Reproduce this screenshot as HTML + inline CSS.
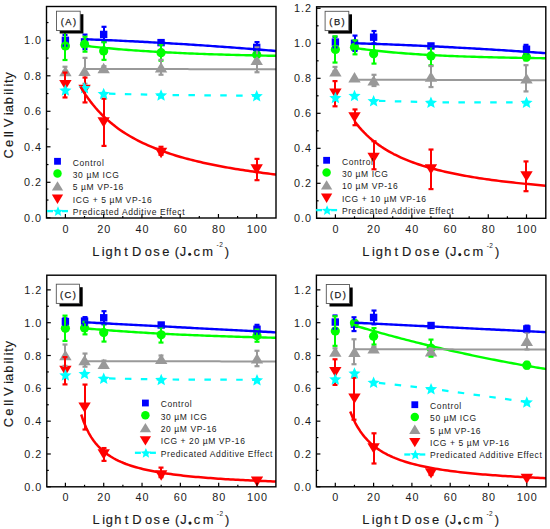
<!DOCTYPE html><html><head><meta charset="utf-8"><style>html,body{margin:0;padding:0;background:#fff;}svg{display:block;} text{stroke:#1a1a1a;stroke-width:0px;} text.t{stroke-width:0.15px;}</style></head><body>
<svg width="550" height="529" viewBox="0 0 550 529" style='font-family:"Liberation Sans",sans-serif'>
<rect width="550" height="529" fill="#fff"/>
<g>
<clipPath id="clipA"><rect x="46.50" y="6.50" width="229.50" height="211.50"/></clipPath>
<g clip-path="url(#clipA)">
<rect x="61.70" y="36.60" width="7.40" height="7.40" fill="#0000ff"/>
<rect x="80.83" y="38.20" width="7.40" height="7.40" fill="#0000ff"/>
<rect x="99.96" y="30.74" width="7.40" height="7.40" fill="#0000ff"/>
<rect x="157.35" y="38.91" width="7.40" height="7.40" fill="#0000ff"/>
<rect x="253.00" y="43.70" width="7.40" height="7.40" fill="#0000ff"/>
<circle cx="65.40" cy="45.98" r="4.60" fill="#00ff00"/>
<circle cx="84.53" cy="44.21" r="4.60" fill="#00ff00"/>
<circle cx="103.66" cy="50.95" r="4.60" fill="#00ff00"/>
<circle cx="161.05" cy="52.72" r="4.60" fill="#00ff00"/>
<circle cx="256.70" cy="54.86" r="4.60" fill="#00ff00"/>
<polygon points="65.40,66.04 71.60,76.34 59.20,76.34" fill="#999999"/>
<polygon points="84.53,65.68 90.73,75.98 78.33,75.98" fill="#999999"/>
<polygon points="103.66,62.84 109.86,73.14 97.46,73.14" fill="#999999"/>
<polygon points="161.05,62.13 167.25,72.43 154.85,72.43" fill="#999999"/>
<polygon points="256.70,54.68 262.90,64.98 250.50,64.98" fill="#999999"/>
<polygon points="59.20,79.88 71.60,79.88 65.40,90.18" fill="#ff0000"/>
<polygon points="78.33,84.85 90.73,84.85 84.53,95.15" fill="#ff0000"/>
<polygon points="97.46,117.16 109.86,117.16 103.66,127.46" fill="#ff0000"/>
<polygon points="154.85,147.86 167.25,147.86 161.05,158.16" fill="#ff0000"/>
<polygon points="250.50,164.37 262.90,164.37 256.70,174.67" fill="#ff0000"/>
<rect x="64.00" y="34.97" width="2" height="10.65" fill="#0000ff"/>
<rect x="62.50" y="33.87" width="5" height="2.2" fill="#0000ff"/>
<rect x="62.50" y="44.53" width="5" height="2.2" fill="#0000ff"/>
<rect x="84.00" y="34.62" width="2" height="14.56" fill="#0000ff"/>
<rect x="82.50" y="33.52" width="5" height="2.2" fill="#0000ff"/>
<rect x="82.50" y="48.08" width="5" height="2.2" fill="#0000ff"/>
<rect x="103.00" y="26.81" width="2" height="15.27" fill="#0000ff"/>
<rect x="101.50" y="25.71" width="5" height="2.2" fill="#0000ff"/>
<rect x="101.50" y="40.98" width="5" height="2.2" fill="#0000ff"/>
<rect x="160.00" y="40.83" width="2" height="3.55" fill="#0000ff"/>
<rect x="158.50" y="39.73" width="5" height="2.2" fill="#0000ff"/>
<rect x="158.50" y="43.28" width="5" height="2.2" fill="#0000ff"/>
<rect x="256.00" y="42.08" width="2" height="10.65" fill="#0000ff"/>
<rect x="254.50" y="40.98" width="5" height="2.2" fill="#0000ff"/>
<rect x="254.50" y="51.63" width="5" height="2.2" fill="#0000ff"/>
<rect x="64.00" y="31.96" width="2" height="28.04" fill="#00ff00"/>
<rect x="62.50" y="30.86" width="5" height="2.2" fill="#00ff00"/>
<rect x="62.50" y="58.90" width="5" height="2.2" fill="#00ff00"/>
<rect x="84.00" y="36.75" width="2" height="14.91" fill="#00ff00"/>
<rect x="82.50" y="35.65" width="5" height="2.2" fill="#00ff00"/>
<rect x="82.50" y="50.56" width="5" height="2.2" fill="#00ff00"/>
<rect x="103.00" y="42.08" width="2" height="17.75" fill="#00ff00"/>
<rect x="101.50" y="40.98" width="5" height="2.2" fill="#00ff00"/>
<rect x="101.50" y="58.73" width="5" height="2.2" fill="#00ff00"/>
<rect x="160.00" y="44.74" width="2" height="15.98" fill="#00ff00"/>
<rect x="158.50" y="43.64" width="5" height="2.2" fill="#00ff00"/>
<rect x="158.50" y="59.61" width="5" height="2.2" fill="#00ff00"/>
<rect x="256.00" y="53.08" width="2" height="3.55" fill="#00ff00"/>
<rect x="254.50" y="51.98" width="5" height="2.2" fill="#00ff00"/>
<rect x="254.50" y="55.53" width="5" height="2.2" fill="#00ff00"/>
<rect x="64.00" y="66.75" width="2" height="4.44" fill="#999999"/>
<rect x="62.50" y="65.65" width="5" height="2.2" fill="#999999"/>
<rect x="62.50" y="70.09" width="5" height="2.2" fill="#999999"/>
<rect x="84.00" y="57.87" width="2" height="25.91" fill="#999999"/>
<rect x="82.50" y="56.77" width="5" height="2.2" fill="#999999"/>
<rect x="82.50" y="82.69" width="5" height="2.2" fill="#999999"/>
<rect x="103.00" y="66.22" width="2" height="3.55" fill="#999999"/>
<rect x="101.50" y="65.12" width="5" height="2.2" fill="#999999"/>
<rect x="101.50" y="68.67" width="5" height="2.2" fill="#999999"/>
<rect x="160.00" y="59.83" width="2" height="14.91" fill="#999999"/>
<rect x="158.50" y="58.73" width="5" height="2.2" fill="#999999"/>
<rect x="158.50" y="73.64" width="5" height="2.2" fill="#999999"/>
<rect x="256.00" y="47.40" width="2" height="24.85" fill="#999999"/>
<rect x="254.50" y="46.30" width="5" height="2.2" fill="#999999"/>
<rect x="254.50" y="71.15" width="5" height="2.2" fill="#999999"/>
<rect x="64.00" y="72.60" width="2" height="24.85" fill="#ff0000"/>
<rect x="62.50" y="71.50" width="5" height="2.2" fill="#ff0000"/>
<rect x="62.50" y="96.36" width="5" height="2.2" fill="#ff0000"/>
<rect x="84.00" y="77.58" width="2" height="24.85" fill="#ff0000"/>
<rect x="82.50" y="76.48" width="5" height="2.2" fill="#ff0000"/>
<rect x="82.50" y="101.33" width="5" height="2.2" fill="#ff0000"/>
<rect x="103.00" y="98.70" width="2" height="47.22" fill="#ff0000"/>
<rect x="101.50" y="97.60" width="5" height="2.2" fill="#ff0000"/>
<rect x="101.50" y="144.81" width="5" height="2.2" fill="#ff0000"/>
<rect x="160.00" y="146.80" width="2" height="7.99" fill="#ff0000"/>
<rect x="158.50" y="145.70" width="5" height="2.2" fill="#ff0000"/>
<rect x="158.50" y="153.69" width="5" height="2.2" fill="#ff0000"/>
<rect x="256.00" y="158.87" width="2" height="21.30" fill="#ff0000"/>
<rect x="254.50" y="157.77" width="5" height="2.2" fill="#ff0000"/>
<rect x="254.50" y="179.07" width="5" height="2.2" fill="#ff0000"/>
<polygon points="65.40,84.21 67.09,88.28 71.49,88.63 68.14,91.50 69.16,95.79 65.40,93.49 61.64,95.79 62.66,91.50 59.31,88.63 63.71,88.28" fill="#00ffff"/>
<polygon points="84.53,81.90 86.22,85.97 90.62,86.33 87.27,89.19 88.29,93.48 84.53,91.18 80.77,93.48 81.79,89.19 78.44,86.33 82.84,85.97" fill="#00ffff"/>
<polygon points="103.66,87.76 105.35,91.83 109.75,92.18 106.40,95.05 107.42,99.34 103.66,97.04 99.90,99.34 100.92,95.05 97.57,92.18 101.97,91.83" fill="#00ffff"/>
<polygon points="161.05,89.18 162.74,93.25 167.14,93.60 163.79,96.47 164.81,100.76 161.05,98.46 157.29,100.76 158.31,96.47 154.96,93.60 159.36,93.25" fill="#00ffff"/>
<polygon points="256.70,89.89 258.39,93.96 262.79,94.31 259.44,97.18 260.46,101.47 256.70,99.17 252.94,101.47 253.96,97.18 250.61,94.31 255.01,93.96" fill="#00ffff"/>
<polyline points="103.66,93.55 161.05,94.97 256.70,95.68" fill="none" stroke="#00ffff" stroke-width="2.20" stroke-linejoin="round" stroke-dasharray="6.5,9.4" stroke-dashoffset="10.60"/>
<polyline points="86.80,39.30 89.22,39.39 91.64,39.49 94.06,39.58 96.48,39.68 98.90,39.78 101.32,39.88 103.74,39.98 106.16,40.09 108.58,40.19 111.00,40.30 113.42,40.40 115.84,40.51 118.26,40.62 120.68,40.74 123.10,40.85 125.52,40.97 127.94,41.08 130.36,41.20 132.78,41.32 135.21,41.44 137.63,41.56 140.05,41.69 142.47,41.81 144.89,41.94 147.31,42.07 149.73,42.20 152.15,42.33 154.57,42.46 156.99,42.60 159.41,42.73 161.83,42.87 164.25,43.01 166.67,43.15 169.09,43.29 171.51,43.43 173.93,43.58 176.35,43.72 178.77,43.87 181.19,44.02 183.61,44.17 186.03,44.32 188.45,44.47 190.87,44.63 193.29,44.78 195.71,44.94 198.13,45.10 200.55,45.26 202.97,45.42 205.39,45.59 207.81,45.75 210.23,45.92 212.65,46.09 215.07,46.25 217.49,46.43 219.91,46.60 222.33,46.77 224.75,46.95 227.17,47.12 229.59,47.30 232.02,47.48 234.44,47.66 236.86,47.84 239.28,48.03 241.70,48.21 244.12,48.40 246.54,48.59 248.96,48.78 251.38,48.97 253.80,49.16 256.22,49.36 258.64,49.55 261.06,49.75 263.48,49.95 265.90,50.15 268.32,50.35 270.74,50.55 273.16,50.76 275.58,50.96 278.00,51.17" fill="none" stroke="#0000ff" stroke-width="2.40" stroke-linejoin="round"/>
<polyline points="84.50,45.74 86.95,46.03 89.40,46.31 91.85,46.58 94.30,46.85 96.75,47.11 99.20,47.36 101.65,47.61 104.09,47.85 106.54,48.08 108.99,48.31 111.44,48.54 113.89,48.76 116.34,48.97 118.79,49.18 121.24,49.38 123.69,49.58 126.14,49.77 128.59,49.96 131.04,50.15 133.49,50.33 135.94,50.50 138.39,50.67 140.84,50.84 143.28,51.00 145.73,51.16 148.18,51.32 150.63,51.47 153.08,51.62 155.53,51.76 157.98,51.90 160.43,52.04 162.88,52.17 165.33,52.30 167.78,52.43 170.23,52.55 172.68,52.67 175.13,52.79 177.58,52.91 180.03,53.02 182.47,53.13 184.92,53.24 187.37,53.34 189.82,53.44 192.27,53.54 194.72,53.64 197.17,53.74 199.62,53.83 202.07,53.92 204.52,54.01 206.97,54.09 209.42,54.18 211.87,54.26 214.32,54.34 216.77,54.41 219.22,54.49 221.66,54.56 224.11,54.64 226.56,54.71 229.01,54.78 231.46,54.84 233.91,54.91 236.36,54.97 238.81,55.04 241.26,55.10 243.71,55.16 246.16,55.21 248.61,55.27 251.06,55.32 253.51,55.38 255.96,55.43 258.41,55.48 260.85,55.53 263.30,55.58 265.75,55.63 268.20,55.68 270.65,55.72 273.10,55.76 275.55,55.81 278.00,55.85" fill="none" stroke="#00ff00" stroke-width="2.40" stroke-linejoin="round"/>
<polyline points="84.50,68.95 86.95,68.96 89.40,68.96 91.85,68.96 94.30,68.97 96.75,68.97 99.20,68.98 101.65,68.98 104.09,68.98 106.54,68.99 108.99,68.99 111.44,69.00 113.89,69.00 116.34,69.01 118.79,69.01 121.24,69.01 123.69,69.02 126.14,69.02 128.59,69.03 131.04,69.03 133.49,69.03 135.94,69.04 138.39,69.04 140.84,69.05 143.28,69.05 145.73,69.05 148.18,69.06 150.63,69.06 153.08,69.07 155.53,69.07 157.98,69.07 160.43,69.08 162.88,69.08 165.33,69.09 167.78,69.09 170.23,69.09 172.68,69.10 175.13,69.10 177.58,69.11 180.03,69.11 182.47,69.11 184.92,69.12 187.37,69.12 189.82,69.13 192.27,69.13 194.72,69.13 197.17,69.14 199.62,69.14 202.07,69.15 204.52,69.15 206.97,69.15 209.42,69.16 211.87,69.16 214.32,69.17 216.77,69.17 219.22,69.17 221.66,69.18 224.11,69.18 226.56,69.19 229.01,69.19 231.46,69.20 233.91,69.20 236.36,69.20 238.81,69.21 241.26,69.21 243.71,69.22 246.16,69.22 248.61,69.22 251.06,69.23 253.51,69.23 255.96,69.24 258.41,69.24 260.85,69.24 263.30,69.25 265.75,69.25 268.20,69.26 270.65,69.26 273.10,69.26 275.55,69.27 278.00,69.27" fill="none" stroke="#999999" stroke-width="2.00" stroke-linejoin="round"/>
<polyline points="80.50,86.62 83.00,90.76 85.50,94.62 88.00,98.22 90.50,101.61 93.00,104.78 95.50,107.77 98.00,110.59 100.50,113.25 103.00,115.76 105.50,118.14 108.00,120.40 110.50,122.55 113.00,124.59 115.50,126.53 118.00,128.38 120.50,130.15 123.00,131.84 125.50,133.45 128.00,135.00 130.50,136.48 133.00,137.90 135.50,139.26 138.00,140.57 140.50,141.83 143.00,143.04 145.50,144.21 148.00,145.33 150.50,146.42 153.00,147.46 155.50,148.47 158.00,149.45 160.50,150.39 163.00,151.30 165.50,152.18 168.00,153.04 170.50,153.86 173.00,154.67 175.50,155.44 178.00,156.20 180.50,156.93 183.00,157.64 185.50,158.33 188.00,159.00 190.50,159.65 193.00,160.29 195.50,160.90 198.00,161.50 200.50,162.09 203.00,162.66 205.50,163.21 208.00,163.75 210.50,164.28 213.00,164.79 215.50,165.30 218.00,165.79 220.50,166.26 223.00,166.73 225.50,167.19 228.00,167.63 230.50,168.07 233.00,168.49 235.50,168.91 238.00,169.31 240.50,169.71 243.00,170.10 245.50,170.48 248.00,170.85 250.50,171.22 253.00,171.58 255.50,171.93 258.00,172.27 260.50,172.60 263.00,172.93 265.50,173.26 268.00,173.57 270.50,173.88 273.00,174.19 275.50,174.49 278.00,174.78" fill="none" stroke="#ff0000" stroke-width="2.50" stroke-linejoin="round"/>
</g>
<rect x="46.50" y="6.50" width="229.50" height="211.50" fill="none" stroke="#000" stroke-width="1.4"/>
<line x1="65.40" y1="218.00" x2="65.40" y2="214.00" stroke="#000" stroke-width="1.2"/>
<text x="65.90" y="232.60" font-size="10.80" text-anchor="middle" letter-spacing="1.00" fill="#1a1a1a" >0</text>
<line x1="84.53" y1="218.00" x2="84.53" y2="216.00" stroke="#000" stroke-width="1.2"/>
<line x1="103.66" y1="218.00" x2="103.66" y2="214.00" stroke="#000" stroke-width="1.2"/>
<text x="104.16" y="232.60" font-size="10.80" text-anchor="middle" letter-spacing="1.00" fill="#1a1a1a" >20</text>
<line x1="122.79" y1="218.00" x2="122.79" y2="216.00" stroke="#000" stroke-width="1.2"/>
<line x1="141.92" y1="218.00" x2="141.92" y2="214.00" stroke="#000" stroke-width="1.2"/>
<text x="142.42" y="232.60" font-size="10.80" text-anchor="middle" letter-spacing="1.00" fill="#1a1a1a" >40</text>
<line x1="161.05" y1="218.00" x2="161.05" y2="216.00" stroke="#000" stroke-width="1.2"/>
<line x1="180.18" y1="218.00" x2="180.18" y2="214.00" stroke="#000" stroke-width="1.2"/>
<text x="180.68" y="232.60" font-size="10.80" text-anchor="middle" letter-spacing="1.00" fill="#1a1a1a" >60</text>
<line x1="199.31" y1="218.00" x2="199.31" y2="216.00" stroke="#000" stroke-width="1.2"/>
<line x1="218.44" y1="218.00" x2="218.44" y2="214.00" stroke="#000" stroke-width="1.2"/>
<text x="218.94" y="232.60" font-size="10.80" text-anchor="middle" letter-spacing="1.00" fill="#1a1a1a" >80</text>
<line x1="237.57" y1="218.00" x2="237.57" y2="216.00" stroke="#000" stroke-width="1.2"/>
<line x1="256.70" y1="218.00" x2="256.70" y2="214.00" stroke="#000" stroke-width="1.2"/>
<text x="257.20" y="232.60" font-size="10.80" text-anchor="middle" letter-spacing="1.00" fill="#1a1a1a" >100</text>
<line x1="46.50" y1="217.80" x2="50.50" y2="217.80" stroke="#000" stroke-width="1.2"/>
<text x="42.00" y="221.80" font-size="10.80" text-anchor="end" letter-spacing="1.00" fill="#1a1a1a" >0.0</text>
<line x1="46.50" y1="200.05" x2="48.50" y2="200.05" stroke="#000" stroke-width="1.2"/>
<line x1="46.50" y1="182.30" x2="50.50" y2="182.30" stroke="#000" stroke-width="1.2"/>
<text x="42.00" y="186.30" font-size="10.80" text-anchor="end" letter-spacing="1.00" fill="#1a1a1a" >0.2</text>
<line x1="46.50" y1="164.55" x2="48.50" y2="164.55" stroke="#000" stroke-width="1.2"/>
<line x1="46.50" y1="146.80" x2="50.50" y2="146.80" stroke="#000" stroke-width="1.2"/>
<text x="42.00" y="150.80" font-size="10.80" text-anchor="end" letter-spacing="1.00" fill="#1a1a1a" >0.4</text>
<line x1="46.50" y1="129.05" x2="48.50" y2="129.05" stroke="#000" stroke-width="1.2"/>
<line x1="46.50" y1="111.30" x2="50.50" y2="111.30" stroke="#000" stroke-width="1.2"/>
<text x="42.00" y="115.30" font-size="10.80" text-anchor="end" letter-spacing="1.00" fill="#1a1a1a" >0.6</text>
<line x1="46.50" y1="93.55" x2="48.50" y2="93.55" stroke="#000" stroke-width="1.2"/>
<line x1="46.50" y1="75.80" x2="50.50" y2="75.80" stroke="#000" stroke-width="1.2"/>
<text x="42.00" y="79.80" font-size="10.80" text-anchor="end" letter-spacing="1.00" fill="#1a1a1a" >0.8</text>
<line x1="46.50" y1="58.05" x2="48.50" y2="58.05" stroke="#000" stroke-width="1.2"/>
<line x1="46.50" y1="40.30" x2="50.50" y2="40.30" stroke="#000" stroke-width="1.2"/>
<text x="42.00" y="44.30" font-size="10.80" text-anchor="end" letter-spacing="1.00" fill="#1a1a1a" >1.0</text>
<line x1="46.50" y1="22.55" x2="48.50" y2="22.55" stroke="#000" stroke-width="1.2"/>
<text class="t" x="92.25 101.87 105.56 114.03 124.36 131.97 144.76 153.13 162.13 174.79 179.85 193.42 202.37 224.81" y="255.60" font-size="12.90" fill="#1a1a1a">LightDose(Jcm)</text>
<circle cx="189.70" cy="254.30" r="1.55" fill="#1a1a1a"/>
<text x="216.57" y="247.40" font-size="6.5" fill="#1a1a1a">-</text>
<text x="219.19" y="247.40" font-size="6.5" fill="#1a1a1a">2</text>
<text class="t" transform="translate(13.0,0) rotate(-90)" x="-158.44 -147.12 -136.99 -133.89 -127.30 -114.98 -112.31 -104.13 -94.78 -91.44 -86.53 -82.94 -78.83" y="0" font-size="12.90" fill="#1a1a1a">CellViability</text>
<rect x="59.70" y="14.20" width="23.70" height="19.30" fill="#000"/>
<rect x="56.50" y="11.20" width="23.70" height="19.30" fill="#fff" stroke="#555" stroke-width="0.9"/>
<text x="69.15" y="25.05" font-size="9.30" text-anchor="middle" letter-spacing="1.50" fill="#1a1a1a" style="stroke-width:0.25px">(A)</text>
<rect x="54.10" y="157.90" width="6.81" height="6.81" fill="#0000ff"/>
<text x="72.80" y="165.60" font-size="8.50" text-anchor="start" letter-spacing="0.60" fill="#1a1a1a" >Control</text>
<circle cx="57.50" cy="173.60" r="4.23" fill="#00ff00"/>
<text x="72.80" y="177.90" font-size="8.50" text-anchor="start" letter-spacing="0.60" fill="#1a1a1a" >30 &#181;M ICG</text>
<polygon points="57.50,181.21 63.14,190.59 51.86,190.59" fill="#999999"/>
<text x="72.80" y="190.20" font-size="8.50" text-anchor="start" letter-spacing="0.60" fill="#1a1a1a" >5 &#181;M VP-16</text>
<polygon points="51.86,194.51 63.14,194.51 57.50,203.89" fill="#ff0000"/>
<text x="72.80" y="202.50" font-size="8.50" text-anchor="start" letter-spacing="0.60" fill="#1a1a1a" >ICG + 5 &#181;M VP-16</text>
<line x1="47.00" y1="211.10" x2="53.00" y2="211.10" stroke="#00ffff" stroke-width="2.3"/>
<line x1="62.00" y1="211.10" x2="68.00" y2="211.10" stroke="#00ffff" stroke-width="2.3"/>
<polygon points="58.00,206.18 59.44,209.64 63.17,209.94 60.33,212.38 61.20,216.02 58.00,214.07 54.80,216.02 55.67,212.38 52.83,209.94 56.56,209.64" fill="#00ffff"/>
<text x="72.80" y="214.80" font-size="8.50" text-anchor="start" letter-spacing="0.60" fill="#1a1a1a" >Predicated Additive Effect</text>
</g>
<g>
<clipPath id="clipB"><rect x="316.60" y="6.80" width="229.20" height="211.50"/></clipPath>
<g clip-path="url(#clipB)">
<rect x="331.70" y="38.38" width="7.40" height="7.40" fill="#0000ff"/>
<rect x="350.81" y="39.60" width="7.40" height="7.40" fill="#0000ff"/>
<rect x="369.92" y="33.48" width="7.40" height="7.40" fill="#0000ff"/>
<rect x="427.25" y="42.23" width="7.40" height="7.40" fill="#0000ff"/>
<rect x="522.80" y="45.55" width="7.40" height="7.40" fill="#0000ff"/>
<circle cx="335.40" cy="49.43" r="4.60" fill="#00ff00"/>
<circle cx="354.51" cy="47.33" r="4.60" fill="#00ff00"/>
<circle cx="373.62" cy="53.80" r="4.60" fill="#00ff00"/>
<circle cx="430.95" cy="55.90" r="4.60" fill="#00ff00"/>
<circle cx="526.50" cy="56.95" r="4.60" fill="#00ff00"/>
<polygon points="335.40,66.15 341.60,76.45 329.20,76.45" fill="#999999"/>
<polygon points="354.51,72.10 360.71,82.40 348.31,82.40" fill="#999999"/>
<polygon points="373.62,75.25 379.82,85.55 367.42,85.55" fill="#999999"/>
<polygon points="430.95,71.40 437.15,81.70 424.75,81.70" fill="#999999"/>
<polygon points="526.50,73.15 532.70,83.45 520.30,83.45" fill="#999999"/>
<polygon points="329.20,88.55 341.60,88.55 335.40,98.85" fill="#ff0000"/>
<polygon points="348.31,112.18 360.71,112.18 354.51,122.48" fill="#ff0000"/>
<polygon points="367.42,152.78 379.82,152.78 373.62,163.08" fill="#ff0000"/>
<polygon points="424.75,164.15 437.15,164.15 430.95,174.45" fill="#ff0000"/>
<polygon points="520.30,171.15 532.70,171.15 526.50,181.45" fill="#ff0000"/>
<rect x="334.00" y="36.83" width="2" height="10.50" fill="#0000ff"/>
<rect x="332.50" y="35.73" width="5" height="2.2" fill="#0000ff"/>
<rect x="332.50" y="46.23" width="5" height="2.2" fill="#0000ff"/>
<rect x="354.00" y="35.60" width="2" height="15.40" fill="#0000ff"/>
<rect x="352.50" y="34.50" width="5" height="2.2" fill="#0000ff"/>
<rect x="352.50" y="49.90" width="5" height="2.2" fill="#0000ff"/>
<rect x="373.00" y="31.05" width="2" height="12.25" fill="#0000ff"/>
<rect x="371.50" y="29.95" width="5" height="2.2" fill="#0000ff"/>
<rect x="371.50" y="42.20" width="5" height="2.2" fill="#0000ff"/>
<rect x="430.00" y="44.18" width="2" height="3.50" fill="#0000ff"/>
<rect x="428.50" y="43.08" width="5" height="2.2" fill="#0000ff"/>
<rect x="428.50" y="46.58" width="5" height="2.2" fill="#0000ff"/>
<rect x="525.00" y="44.88" width="2" height="8.75" fill="#0000ff"/>
<rect x="523.50" y="43.77" width="5" height="2.2" fill="#0000ff"/>
<rect x="523.50" y="52.53" width="5" height="2.2" fill="#0000ff"/>
<rect x="334.00" y="36.30" width="2" height="26.25" fill="#00ff00"/>
<rect x="332.50" y="35.20" width="5" height="2.2" fill="#00ff00"/>
<rect x="332.50" y="61.45" width="5" height="2.2" fill="#00ff00"/>
<rect x="354.00" y="40.33" width="2" height="14.00" fill="#00ff00"/>
<rect x="352.50" y="39.23" width="5" height="2.2" fill="#00ff00"/>
<rect x="352.50" y="53.23" width="5" height="2.2" fill="#00ff00"/>
<rect x="373.00" y="44.00" width="2" height="19.60" fill="#00ff00"/>
<rect x="371.50" y="42.90" width="5" height="2.2" fill="#00ff00"/>
<rect x="371.50" y="62.50" width="5" height="2.2" fill="#00ff00"/>
<rect x="430.00" y="46.45" width="2" height="18.90" fill="#00ff00"/>
<rect x="428.50" y="45.35" width="5" height="2.2" fill="#00ff00"/>
<rect x="428.50" y="64.25" width="5" height="2.2" fill="#00ff00"/>
<rect x="525.00" y="53.45" width="2" height="7.00" fill="#00ff00"/>
<rect x="523.50" y="52.35" width="5" height="2.2" fill="#00ff00"/>
<rect x="523.50" y="59.35" width="5" height="2.2" fill="#00ff00"/>
<rect x="334.00" y="66.93" width="2" height="4.38" fill="#999999"/>
<rect x="332.50" y="65.83" width="5" height="2.2" fill="#999999"/>
<rect x="332.50" y="70.20" width="5" height="2.2" fill="#999999"/>
<rect x="373.00" y="74.80" width="2" height="11.20" fill="#999999"/>
<rect x="371.50" y="73.70" width="5" height="2.2" fill="#999999"/>
<rect x="371.50" y="84.90" width="5" height="2.2" fill="#999999"/>
<rect x="430.00" y="66.05" width="2" height="21.00" fill="#999999"/>
<rect x="428.50" y="64.95" width="5" height="2.2" fill="#999999"/>
<rect x="428.50" y="85.95" width="5" height="2.2" fill="#999999"/>
<rect x="525.00" y="65.18" width="2" height="26.25" fill="#999999"/>
<rect x="523.50" y="64.08" width="5" height="2.2" fill="#999999"/>
<rect x="523.50" y="90.33" width="5" height="2.2" fill="#999999"/>
<rect x="334.00" y="81.10" width="2" height="25.20" fill="#ff0000"/>
<rect x="332.50" y="80.00" width="5" height="2.2" fill="#ff0000"/>
<rect x="332.50" y="105.20" width="5" height="2.2" fill="#ff0000"/>
<rect x="354.00" y="109.45" width="2" height="15.75" fill="#ff0000"/>
<rect x="352.50" y="108.35" width="5" height="2.2" fill="#ff0000"/>
<rect x="352.50" y="124.10" width="5" height="2.2" fill="#ff0000"/>
<rect x="373.00" y="141.30" width="2" height="28.00" fill="#ff0000"/>
<rect x="371.50" y="140.20" width="5" height="2.2" fill="#ff0000"/>
<rect x="371.50" y="168.20" width="5" height="2.2" fill="#ff0000"/>
<rect x="430.00" y="149.53" width="2" height="39.55" fill="#ff0000"/>
<rect x="428.50" y="148.43" width="5" height="2.2" fill="#ff0000"/>
<rect x="428.50" y="187.98" width="5" height="2.2" fill="#ff0000"/>
<rect x="525.00" y="161.43" width="2" height="29.75" fill="#ff0000"/>
<rect x="523.50" y="160.33" width="5" height="2.2" fill="#ff0000"/>
<rect x="523.50" y="190.08" width="5" height="2.2" fill="#ff0000"/>
<polygon points="335.40,91.76 337.09,95.83 341.49,96.18 338.14,99.05 339.16,103.34 335.40,101.04 331.64,103.34 332.66,99.05 329.31,96.18 333.71,95.83" fill="#00ffff"/>
<polygon points="354.51,89.66 356.20,93.73 360.60,94.08 357.25,96.95 358.27,101.24 354.51,98.94 350.75,101.24 351.77,96.95 348.42,94.08 352.82,93.73" fill="#00ffff"/>
<polygon points="373.62,94.91 375.31,98.98 379.71,99.33 376.36,102.20 377.38,106.49 373.62,104.19 369.86,106.49 370.88,102.20 367.53,99.33 371.93,98.98" fill="#00ffff"/>
<polygon points="430.95,96.49 432.64,100.56 437.04,100.91 433.69,103.78 434.71,108.06 430.95,105.77 427.19,108.06 428.21,103.78 424.86,100.91 429.26,100.56" fill="#00ffff"/>
<polygon points="526.50,96.49 528.19,100.56 532.59,100.91 529.24,103.78 530.26,108.06 526.50,105.77 522.74,108.06 523.76,103.78 520.41,100.91 524.81,100.56" fill="#00ffff"/>
<polyline points="373.62,100.70 430.95,102.28 526.50,102.28" fill="none" stroke="#00ffff" stroke-width="2.20" stroke-linejoin="round" stroke-dasharray="6.5,9.4" stroke-dashoffset="10.60"/>
<polyline points="354.50,43.20 356.95,43.28 359.39,43.36 361.84,43.44 364.29,43.52 366.73,43.60 369.18,43.69 371.63,43.77 374.07,43.86 376.52,43.95 378.97,44.04 381.42,44.13 383.86,44.22 386.31,44.31 388.76,44.41 391.20,44.50 393.65,44.60 396.10,44.70 398.54,44.80 400.99,44.90 403.44,45.00 405.88,45.11 408.33,45.21 410.78,45.32 413.22,45.43 415.67,45.54 418.12,45.65 420.56,45.76 423.01,45.87 425.46,45.98 427.91,46.10 430.35,46.22 432.80,46.33 435.25,46.45 437.69,46.57 440.14,46.70 442.59,46.82 445.03,46.94 447.48,47.07 449.93,47.20 452.37,47.32 454.82,47.45 457.27,47.58 459.71,47.72 462.16,47.85 464.61,47.98 467.05,48.12 469.50,48.26 471.95,48.40 474.39,48.54 476.84,48.68 479.29,48.82 481.74,48.96 484.18,49.11 486.63,49.26 489.08,49.40 491.52,49.55 493.97,49.70 496.42,49.85 498.86,50.01 501.31,50.16 503.76,50.32 506.20,50.47 508.65,50.63 511.10,50.79 513.54,50.95 515.99,51.11 518.44,51.27 520.88,51.44 523.33,51.60 525.78,51.77 528.23,51.94 530.67,52.11 533.12,52.28 535.57,52.45 538.01,52.63 540.46,52.80 542.91,52.98 545.35,53.15 547.80,53.33" fill="none" stroke="#0000ff" stroke-width="2.40" stroke-linejoin="round"/>
<polyline points="354.50,47.91 356.95,48.27 359.39,48.61 361.84,48.94 364.29,49.27 366.73,49.58 369.18,49.88 371.63,50.18 374.07,50.46 376.52,50.73 378.97,51.00 381.42,51.26 383.86,51.51 386.31,51.75 388.76,51.98 391.20,52.21 393.65,52.43 396.10,52.64 398.54,52.85 400.99,53.05 403.44,53.24 405.88,53.43 408.33,53.61 410.78,53.78 413.22,53.95 415.67,54.12 418.12,54.28 420.56,54.43 423.01,54.58 425.46,54.72 427.91,54.86 430.35,55.00 432.80,55.13 435.25,55.26 437.69,55.38 440.14,55.50 442.59,55.61 445.03,55.73 447.48,55.83 449.93,55.94 452.37,56.04 454.82,56.14 457.27,56.23 459.71,56.33 462.16,56.41 464.61,56.50 467.05,56.58 469.50,56.67 471.95,56.74 474.39,56.82 476.84,56.89 479.29,56.96 481.74,57.03 484.18,57.10 486.63,57.17 489.08,57.23 491.52,57.29 493.97,57.35 496.42,57.40 498.86,57.46 501.31,57.51 503.76,57.56 506.20,57.61 508.65,57.66 511.10,57.71 513.54,57.75 515.99,57.80 518.44,57.84 520.88,57.88 523.33,57.92 525.78,57.96 528.23,58.00 530.67,58.03 533.12,58.07 535.57,58.10 538.01,58.14 540.46,58.17 542.91,58.20 545.35,58.23 547.80,58.26" fill="none" stroke="#00ff00" stroke-width="2.40" stroke-linejoin="round"/>
<polyline points="358.40,79.65 360.80,79.65 363.19,79.66 365.59,79.67 367.99,79.68 370.39,79.68 372.78,79.69 375.18,79.70 377.58,79.70 379.98,79.71 382.37,79.72 384.77,79.72 387.17,79.73 389.57,79.74 391.96,79.75 394.36,79.75 396.76,79.76 399.16,79.77 401.55,79.77 403.95,79.78 406.35,79.79 408.75,79.79 411.14,79.80 413.54,79.81 415.94,79.82 418.34,79.82 420.73,79.83 423.13,79.84 425.53,79.84 427.93,79.85 430.32,79.86 432.72,79.86 435.12,79.87 437.52,79.88 439.91,79.88 442.31,79.89 444.71,79.90 447.11,79.91 449.50,79.91 451.90,79.92 454.30,79.93 456.70,79.93 459.09,79.94 461.49,79.95 463.89,79.95 466.29,79.96 468.68,79.97 471.08,79.98 473.48,79.98 475.88,79.99 478.27,80.00 480.67,80.00 483.07,80.01 485.47,80.02 487.86,80.02 490.26,80.03 492.66,80.04 495.06,80.05 497.45,80.05 499.85,80.06 502.25,80.07 504.65,80.07 507.04,80.08 509.44,80.09 511.84,80.09 514.24,80.10 516.63,80.11 519.03,80.11 521.43,80.12 523.83,80.13 526.22,80.14 528.62,80.14 531.02,80.15 533.42,80.16 535.81,80.16 538.21,80.17 540.61,80.18 543.01,80.18 545.40,80.19 547.80,80.20" fill="none" stroke="#999999" stroke-width="2.00" stroke-linejoin="round"/>
<polyline points="354.50,121.17 356.95,124.37 359.39,127.34 361.84,130.11 364.29,132.68 366.73,135.09 369.18,137.35 371.63,139.48 374.07,141.47 376.52,143.35 378.97,145.13 381.42,146.81 383.86,148.40 386.31,149.91 388.76,151.34 391.20,152.71 393.65,154.01 396.10,155.24 398.54,156.42 400.99,157.55 403.44,158.63 405.88,159.66 408.33,160.65 410.78,161.60 413.22,162.52 415.67,163.39 418.12,164.23 420.56,165.04 423.01,165.82 425.46,166.57 427.91,167.30 430.35,168.00 432.80,168.67 435.25,169.32 437.69,169.95 440.14,170.56 442.59,171.15 445.03,171.72 447.48,172.27 449.93,172.81 452.37,173.33 454.82,173.83 457.27,174.32 459.71,174.80 462.16,175.26 464.61,175.71 467.05,176.14 469.50,176.57 471.95,176.98 474.39,177.38 476.84,177.77 479.29,178.15 481.74,178.52 484.18,178.88 486.63,179.24 489.08,179.58 491.52,179.92 493.97,180.24 496.42,180.56 498.86,180.87 501.31,181.18 503.76,181.48 506.20,181.77 508.65,182.05 511.10,182.33 513.54,182.60 515.99,182.87 518.44,183.13 520.88,183.38 523.33,183.63 525.78,183.87 528.23,184.11 530.67,184.35 533.12,184.58 535.57,184.80 538.01,185.02 540.46,185.24 542.91,185.45 545.35,185.66 547.80,185.86" fill="none" stroke="#ff0000" stroke-width="2.50" stroke-linejoin="round"/>
</g>
<rect x="316.60" y="6.80" width="229.20" height="211.50" fill="none" stroke="#000" stroke-width="1.4"/>
<line x1="335.40" y1="218.30" x2="335.40" y2="214.30" stroke="#000" stroke-width="1.2"/>
<text x="335.90" y="232.90" font-size="10.80" text-anchor="middle" letter-spacing="1.00" fill="#1a1a1a" >0</text>
<line x1="354.51" y1="218.30" x2="354.51" y2="216.30" stroke="#000" stroke-width="1.2"/>
<line x1="373.62" y1="218.30" x2="373.62" y2="214.30" stroke="#000" stroke-width="1.2"/>
<text x="374.12" y="232.90" font-size="10.80" text-anchor="middle" letter-spacing="1.00" fill="#1a1a1a" >20</text>
<line x1="392.73" y1="218.30" x2="392.73" y2="216.30" stroke="#000" stroke-width="1.2"/>
<line x1="411.84" y1="218.30" x2="411.84" y2="214.30" stroke="#000" stroke-width="1.2"/>
<text x="412.34" y="232.90" font-size="10.80" text-anchor="middle" letter-spacing="1.00" fill="#1a1a1a" >40</text>
<line x1="430.95" y1="218.30" x2="430.95" y2="216.30" stroke="#000" stroke-width="1.2"/>
<line x1="450.06" y1="218.30" x2="450.06" y2="214.30" stroke="#000" stroke-width="1.2"/>
<text x="450.56" y="232.90" font-size="10.80" text-anchor="middle" letter-spacing="1.00" fill="#1a1a1a" >60</text>
<line x1="469.17" y1="218.30" x2="469.17" y2="216.30" stroke="#000" stroke-width="1.2"/>
<line x1="488.28" y1="218.30" x2="488.28" y2="214.30" stroke="#000" stroke-width="1.2"/>
<text x="488.78" y="232.90" font-size="10.80" text-anchor="middle" letter-spacing="1.00" fill="#1a1a1a" >80</text>
<line x1="507.39" y1="218.30" x2="507.39" y2="216.30" stroke="#000" stroke-width="1.2"/>
<line x1="526.50" y1="218.30" x2="526.50" y2="214.30" stroke="#000" stroke-width="1.2"/>
<text x="527.00" y="232.90" font-size="10.80" text-anchor="middle" letter-spacing="1.00" fill="#1a1a1a" >100</text>
<line x1="316.60" y1="218.30" x2="320.60" y2="218.30" stroke="#000" stroke-width="1.2"/>
<text x="312.10" y="222.30" font-size="10.80" text-anchor="end" letter-spacing="1.00" fill="#1a1a1a" >0.0</text>
<line x1="316.60" y1="200.80" x2="318.60" y2="200.80" stroke="#000" stroke-width="1.2"/>
<line x1="316.60" y1="183.30" x2="320.60" y2="183.30" stroke="#000" stroke-width="1.2"/>
<text x="312.10" y="187.30" font-size="10.80" text-anchor="end" letter-spacing="1.00" fill="#1a1a1a" >0.2</text>
<line x1="316.60" y1="165.80" x2="318.60" y2="165.80" stroke="#000" stroke-width="1.2"/>
<line x1="316.60" y1="148.30" x2="320.60" y2="148.30" stroke="#000" stroke-width="1.2"/>
<text x="312.10" y="152.30" font-size="10.80" text-anchor="end" letter-spacing="1.00" fill="#1a1a1a" >0.4</text>
<line x1="316.60" y1="130.80" x2="318.60" y2="130.80" stroke="#000" stroke-width="1.2"/>
<line x1="316.60" y1="113.30" x2="320.60" y2="113.30" stroke="#000" stroke-width="1.2"/>
<text x="312.10" y="117.30" font-size="10.80" text-anchor="end" letter-spacing="1.00" fill="#1a1a1a" >0.6</text>
<line x1="316.60" y1="95.80" x2="318.60" y2="95.80" stroke="#000" stroke-width="1.2"/>
<line x1="316.60" y1="78.30" x2="320.60" y2="78.30" stroke="#000" stroke-width="1.2"/>
<text x="312.10" y="82.30" font-size="10.80" text-anchor="end" letter-spacing="1.00" fill="#1a1a1a" >0.8</text>
<line x1="316.60" y1="60.80" x2="318.60" y2="60.80" stroke="#000" stroke-width="1.2"/>
<line x1="316.60" y1="43.30" x2="320.60" y2="43.30" stroke="#000" stroke-width="1.2"/>
<text x="312.10" y="47.30" font-size="10.80" text-anchor="end" letter-spacing="1.00" fill="#1a1a1a" >1.0</text>
<line x1="316.60" y1="25.80" x2="318.60" y2="25.80" stroke="#000" stroke-width="1.2"/>
<line x1="316.60" y1="8.30" x2="320.60" y2="8.30" stroke="#000" stroke-width="1.2"/>
<text x="312.10" y="12.30" font-size="10.80" text-anchor="end" letter-spacing="1.00" fill="#1a1a1a" >1.2</text>
<text class="t" x="362.35 371.97 375.66 384.13 394.46 402.07 414.86 423.23 432.23 444.89 449.95 463.52 472.47 494.91" y="255.90" font-size="12.90" fill="#1a1a1a">LightDose(Jcm)</text>
<circle cx="459.80" cy="254.60" r="1.55" fill="#1a1a1a"/>
<text x="486.67" y="247.70" font-size="6.5" fill="#1a1a1a">-</text>
<text x="489.29" y="247.70" font-size="6.5" fill="#1a1a1a">2</text>
<rect x="328.30" y="14.30" width="23.70" height="19.30" fill="#000"/>
<rect x="325.10" y="11.30" width="23.70" height="19.30" fill="#fff" stroke="#555" stroke-width="0.9"/>
<text x="337.75" y="25.15" font-size="9.30" text-anchor="middle" letter-spacing="1.50" fill="#1a1a1a" style="stroke-width:0.25px">(B)</text>
<rect x="323.20" y="156.90" width="6.81" height="6.81" fill="#0000ff"/>
<text x="341.90" y="164.60" font-size="8.50" text-anchor="start" letter-spacing="0.60" fill="#1a1a1a" >Control</text>
<circle cx="326.60" cy="172.60" r="4.23" fill="#00ff00"/>
<text x="341.90" y="176.90" font-size="8.50" text-anchor="start" letter-spacing="0.60" fill="#1a1a1a" >30 &#181;M ICG</text>
<polygon points="326.60,180.21 332.24,189.59 320.96,189.59" fill="#999999"/>
<text x="341.90" y="189.20" font-size="8.50" text-anchor="start" letter-spacing="0.60" fill="#1a1a1a" >10 &#181;M VP-16</text>
<polygon points="320.96,193.51 332.24,193.51 326.60,202.89" fill="#ff0000"/>
<text x="341.90" y="201.50" font-size="8.50" text-anchor="start" letter-spacing="0.60" fill="#1a1a1a" >ICG + 10 &#181;M VP-16</text>
<line x1="316.10" y1="210.10" x2="322.10" y2="210.10" stroke="#00ffff" stroke-width="2.3"/>
<line x1="331.10" y1="210.10" x2="337.10" y2="210.10" stroke="#00ffff" stroke-width="2.3"/>
<polygon points="327.10,205.18 328.54,208.64 332.27,208.94 329.43,211.38 330.30,215.02 327.10,213.07 323.90,215.02 324.77,211.38 321.93,208.94 325.66,208.64" fill="#00ffff"/>
<text x="341.90" y="213.80" font-size="8.50" text-anchor="start" letter-spacing="0.60" fill="#1a1a1a" >Predicated Additive Effect</text>
</g>
<g>
<clipPath id="clipC"><rect x="46.80" y="275.20" width="229.10" height="211.60"/></clipPath>
<g clip-path="url(#clipC)">
<rect x="61.70" y="317.85" width="7.40" height="7.40" fill="#0000ff"/>
<rect x="80.86" y="317.36" width="7.40" height="7.40" fill="#0000ff"/>
<rect x="100.02" y="314.08" width="7.40" height="7.40" fill="#0000ff"/>
<rect x="157.50" y="321.30" width="7.40" height="7.40" fill="#0000ff"/>
<rect x="253.30" y="325.56" width="7.40" height="7.40" fill="#0000ff"/>
<circle cx="65.40" cy="328.28" r="4.60" fill="#00ff00"/>
<circle cx="84.56" cy="328.12" r="4.60" fill="#00ff00"/>
<circle cx="103.72" cy="332.55" r="4.60" fill="#00ff00"/>
<circle cx="161.20" cy="334.84" r="4.60" fill="#00ff00"/>
<circle cx="257.00" cy="335.66" r="4.60" fill="#00ff00"/>
<polygon points="65.40,350.04 71.60,360.34 59.20,360.34" fill="#999999"/>
<polygon points="84.56,354.96 90.76,365.26 78.36,365.26" fill="#999999"/>
<polygon points="103.72,358.74 109.92,369.04 97.52,369.04" fill="#999999"/>
<polygon points="161.20,353.65 167.40,363.95 155.00,363.95" fill="#999999"/>
<polygon points="257.00,353.32 263.20,363.62 250.80,363.62" fill="#999999"/>
<polygon points="59.20,365.63 71.60,365.63 65.40,375.93" fill="#ff0000"/>
<polygon points="78.36,402.55 90.76,402.55 84.56,412.85" fill="#ff0000"/>
<polygon points="97.52,449.32 109.92,449.32 103.72,459.62" fill="#ff0000"/>
<polygon points="155.00,470.33 167.40,470.33 161.20,480.63" fill="#ff0000"/>
<polygon points="250.80,476.40 263.20,476.40 257.00,486.70" fill="#ff0000"/>
<rect x="64.00" y="318.27" width="2" height="6.56" fill="#0000ff"/>
<rect x="62.50" y="317.17" width="5" height="2.2" fill="#0000ff"/>
<rect x="62.50" y="323.73" width="5" height="2.2" fill="#0000ff"/>
<rect x="84.00" y="317.12" width="2" height="7.88" fill="#0000ff"/>
<rect x="82.50" y="316.02" width="5" height="2.2" fill="#0000ff"/>
<rect x="82.50" y="323.90" width="5" height="2.2" fill="#0000ff"/>
<rect x="103.00" y="311.21" width="2" height="13.13" fill="#0000ff"/>
<rect x="101.50" y="310.11" width="5" height="2.2" fill="#0000ff"/>
<rect x="101.50" y="323.24" width="5" height="2.2" fill="#0000ff"/>
<rect x="160.00" y="323.36" width="2" height="3.28" fill="#0000ff"/>
<rect x="158.50" y="322.26" width="5" height="2.2" fill="#0000ff"/>
<rect x="158.50" y="325.54" width="5" height="2.2" fill="#0000ff"/>
<rect x="256.00" y="324.83" width="2" height="8.86" fill="#0000ff"/>
<rect x="254.50" y="323.73" width="5" height="2.2" fill="#0000ff"/>
<rect x="254.50" y="332.59" width="5" height="2.2" fill="#0000ff"/>
<rect x="64.00" y="315.64" width="2" height="25.27" fill="#00ff00"/>
<rect x="62.50" y="314.54" width="5" height="2.2" fill="#00ff00"/>
<rect x="62.50" y="339.82" width="5" height="2.2" fill="#00ff00"/>
<rect x="84.00" y="321.88" width="2" height="12.47" fill="#00ff00"/>
<rect x="82.50" y="320.78" width="5" height="2.2" fill="#00ff00"/>
<rect x="82.50" y="333.25" width="5" height="2.2" fill="#00ff00"/>
<rect x="103.00" y="323.52" width="2" height="18.05" fill="#00ff00"/>
<rect x="101.50" y="322.42" width="5" height="2.2" fill="#00ff00"/>
<rect x="101.50" y="340.47" width="5" height="2.2" fill="#00ff00"/>
<rect x="160.00" y="327.13" width="2" height="15.43" fill="#00ff00"/>
<rect x="158.50" y="326.03" width="5" height="2.2" fill="#00ff00"/>
<rect x="158.50" y="341.46" width="5" height="2.2" fill="#00ff00"/>
<rect x="256.00" y="329.59" width="2" height="12.14" fill="#00ff00"/>
<rect x="254.50" y="328.49" width="5" height="2.2" fill="#00ff00"/>
<rect x="254.50" y="340.64" width="5" height="2.2" fill="#00ff00"/>
<rect x="64.00" y="344.53" width="2" height="21.33" fill="#999999"/>
<rect x="62.50" y="343.43" width="5" height="2.2" fill="#999999"/>
<rect x="62.50" y="364.76" width="5" height="2.2" fill="#999999"/>
<rect x="84.00" y="353.55" width="2" height="13.13" fill="#999999"/>
<rect x="82.50" y="352.45" width="5" height="2.2" fill="#999999"/>
<rect x="82.50" y="365.58" width="5" height="2.2" fill="#999999"/>
<rect x="103.00" y="360.61" width="2" height="6.56" fill="#999999"/>
<rect x="101.50" y="359.51" width="5" height="2.2" fill="#999999"/>
<rect x="101.50" y="366.07" width="5" height="2.2" fill="#999999"/>
<rect x="160.00" y="355.52" width="2" height="6.56" fill="#999999"/>
<rect x="158.50" y="354.42" width="5" height="2.2" fill="#999999"/>
<rect x="158.50" y="360.98" width="5" height="2.2" fill="#999999"/>
<rect x="256.00" y="350.76" width="2" height="15.43" fill="#999999"/>
<rect x="254.50" y="349.66" width="5" height="2.2" fill="#999999"/>
<rect x="254.50" y="365.09" width="5" height="2.2" fill="#999999"/>
<rect x="64.00" y="357.16" width="2" height="27.24" fill="#ff0000"/>
<rect x="62.50" y="356.06" width="5" height="2.2" fill="#ff0000"/>
<rect x="62.50" y="383.30" width="5" height="2.2" fill="#ff0000"/>
<rect x="84.00" y="384.57" width="2" height="44.96" fill="#ff0000"/>
<rect x="82.50" y="383.47" width="5" height="2.2" fill="#ff0000"/>
<rect x="82.50" y="428.43" width="5" height="2.2" fill="#ff0000"/>
<rect x="103.00" y="448.07" width="2" height="12.80" fill="#ff0000"/>
<rect x="101.50" y="446.97" width="5" height="2.2" fill="#ff0000"/>
<rect x="101.50" y="459.77" width="5" height="2.2" fill="#ff0000"/>
<rect x="160.00" y="467.60" width="2" height="9.52" fill="#ff0000"/>
<rect x="158.50" y="466.50" width="5" height="2.2" fill="#ff0000"/>
<rect x="158.50" y="476.02" width="5" height="2.2" fill="#ff0000"/>
<polygon points="65.40,369.09 67.09,373.16 71.49,373.52 68.14,376.38 69.16,380.67 65.40,378.37 61.64,380.67 62.66,376.38 59.31,373.52 63.71,373.16" fill="#00ffff"/>
<polygon points="84.56,367.78 86.25,371.85 90.65,372.20 87.30,375.07 88.32,379.36 84.56,377.06 80.80,379.36 81.82,375.07 78.47,372.20 82.87,371.85" fill="#00ffff"/>
<polygon points="103.72,372.54 105.41,376.61 109.81,376.96 106.46,379.83 107.48,384.12 103.72,381.82 99.96,384.12 100.98,379.83 97.63,376.96 102.03,376.61" fill="#00ffff"/>
<polygon points="161.20,373.69 162.89,377.76 167.29,378.11 163.94,380.98 164.96,385.27 161.20,382.97 157.44,385.27 158.46,380.98 155.11,378.11 159.51,377.76" fill="#00ffff"/>
<polygon points="257.00,374.02 258.69,378.09 263.09,378.44 259.74,381.31 260.76,385.60 257.00,383.30 253.24,385.60 254.26,381.31 250.91,378.44 255.31,378.09" fill="#00ffff"/>
<polyline points="103.72,378.33 161.20,379.48 257.00,379.81" fill="none" stroke="#00ffff" stroke-width="2.20" stroke-linejoin="round" stroke-dasharray="6.5,9.4" stroke-dashoffset="10.60"/>
<polyline points="84.60,322.28 87.05,322.41 89.49,322.54 91.94,322.67 94.39,322.80 96.83,322.93 99.28,323.06 101.73,323.18 104.17,323.31 106.62,323.44 109.07,323.57 111.52,323.70 113.96,323.83 116.41,323.96 118.86,324.09 121.30,324.22 123.75,324.34 126.20,324.47 128.64,324.60 131.09,324.73 133.54,324.86 135.98,324.99 138.43,325.12 140.88,325.25 143.32,325.37 145.77,325.50 148.22,325.63 150.66,325.76 153.11,325.89 155.56,326.02 158.01,326.15 160.45,326.28 162.90,326.40 165.35,326.53 167.79,326.66 170.24,326.79 172.69,326.92 175.13,327.05 177.58,327.18 180.03,327.31 182.47,327.44 184.92,327.56 187.37,327.69 189.81,327.82 192.26,327.95 194.71,328.08 197.15,328.21 199.60,328.34 202.05,328.47 204.49,328.59 206.94,328.72 209.39,328.85 211.84,328.98 214.28,329.11 216.73,329.24 219.18,329.37 221.62,329.50 224.07,329.63 226.52,329.75 228.96,329.88 231.41,330.01 233.86,330.14 236.30,330.27 238.75,330.40 241.20,330.53 243.64,330.66 246.09,330.78 248.54,330.91 250.98,331.04 253.43,331.17 255.88,331.30 258.33,331.43 260.77,331.56 263.22,331.69 265.67,331.81 268.11,331.94 270.56,332.07 273.01,332.20 275.45,332.33 277.90,332.46" fill="none" stroke="#0000ff" stroke-width="2.40" stroke-linejoin="round"/>
<polyline points="84.60,328.29 87.05,328.51 89.49,328.73 91.94,328.94 94.39,329.15 96.83,329.36 99.28,329.56 101.73,329.76 104.17,329.95 106.62,330.14 109.07,330.33 111.52,330.52 113.96,330.70 116.41,330.88 118.86,331.05 121.30,331.23 123.75,331.39 126.20,331.56 128.64,331.72 131.09,331.89 133.54,332.04 135.98,332.20 138.43,332.35 140.88,332.50 143.32,332.65 145.77,332.79 148.22,332.94 150.66,333.08 153.11,333.21 155.56,333.35 158.01,333.48 160.45,333.61 162.90,333.74 165.35,333.87 167.79,333.99 170.24,334.11 172.69,334.23 175.13,334.35 177.58,334.46 180.03,334.58 182.47,334.69 184.92,334.80 187.37,334.91 189.81,335.01 192.26,335.12 194.71,335.22 197.15,335.32 199.60,335.42 202.05,335.51 204.49,335.61 206.94,335.70 209.39,335.79 211.84,335.88 214.28,335.97 216.73,336.06 219.18,336.15 221.62,336.23 224.07,336.31 226.52,336.40 228.96,336.48 231.41,336.55 233.86,336.63 236.30,336.71 238.75,336.78 241.20,336.85 243.64,336.93 246.09,337.00 248.54,337.07 250.98,337.14 253.43,337.20 255.88,337.27 258.33,337.33 260.77,337.40 263.22,337.46 265.67,337.52 268.11,337.58 270.56,337.64 273.01,337.70 275.45,337.76 277.90,337.81" fill="none" stroke="#00ff00" stroke-width="2.40" stroke-linejoin="round"/>
<polyline points="84.60,361.15 87.05,361.16 89.49,361.16 91.94,361.16 94.39,361.17 96.83,361.17 99.28,361.18 101.73,361.18 104.17,361.18 106.62,361.19 109.07,361.19 111.52,361.20 113.96,361.20 116.41,361.21 118.86,361.21 121.30,361.21 123.75,361.22 126.20,361.22 128.64,361.23 131.09,361.23 133.54,361.23 135.98,361.24 138.43,361.24 140.88,361.25 143.32,361.25 145.77,361.25 148.22,361.26 150.66,361.26 153.11,361.27 155.56,361.27 158.01,361.27 160.45,361.28 162.90,361.28 165.35,361.29 167.79,361.29 170.24,361.29 172.69,361.30 175.13,361.30 177.58,361.31 180.03,361.31 182.47,361.31 184.92,361.32 187.37,361.32 189.81,361.33 192.26,361.33 194.71,361.33 197.15,361.34 199.60,361.34 202.05,361.35 204.49,361.35 206.94,361.35 209.39,361.36 211.84,361.36 214.28,361.37 216.73,361.37 219.18,361.37 221.62,361.38 224.07,361.38 226.52,361.39 228.96,361.39 231.41,361.39 233.86,361.40 236.30,361.40 238.75,361.41 241.20,361.41 243.64,361.42 246.09,361.42 248.54,361.42 250.98,361.43 253.43,361.43 255.88,361.44 258.33,361.44 260.77,361.44 263.22,361.45 265.67,361.45 268.11,361.46 270.56,361.46 273.01,361.46 275.45,361.47 277.90,361.47" fill="none" stroke="#999999" stroke-width="2.00" stroke-linejoin="round"/>
<polyline points="81.20,414.50 83.69,421.79 86.18,427.79 88.67,432.81 91.16,437.08 93.65,440.75 96.14,443.94 98.63,446.73 101.12,449.21 103.61,451.41 106.10,453.38 108.59,455.16 111.08,456.77 113.57,458.24 116.06,459.58 118.55,460.81 121.04,461.95 123.53,463.00 126.02,463.97 128.51,464.87 131.00,465.71 133.49,466.49 135.98,467.23 138.47,467.92 140.96,468.57 143.45,469.18 145.94,469.75 148.43,470.29 150.92,470.81 153.41,471.30 155.90,471.76 158.39,472.20 160.88,472.62 163.37,473.02 165.86,473.40 168.35,473.76 170.84,474.11 173.33,474.44 175.82,474.76 178.31,475.06 180.79,475.36 183.28,475.64 185.77,475.91 188.26,476.17 190.75,476.42 193.24,476.66 195.73,476.89 198.22,477.11 200.71,477.33 203.20,477.54 205.69,477.74 208.18,477.93 210.67,478.12 213.16,478.30 215.65,478.48 218.14,478.65 220.63,478.82 223.12,478.98 225.61,479.13 228.10,479.29 230.59,479.43 233.08,479.58 235.57,479.71 238.06,479.85 240.55,479.98 243.04,480.11 245.53,480.23 248.02,480.35 250.51,480.47 253.00,480.59 255.49,480.70 257.98,480.81 260.47,480.92 262.96,481.02 265.45,481.12 267.94,481.22 270.43,481.32 272.92,481.41 275.41,481.50 277.90,481.60" fill="none" stroke="#ff0000" stroke-width="2.50" stroke-linejoin="round"/>
</g>
<rect x="46.80" y="275.20" width="229.10" height="211.60" fill="none" stroke="#000" stroke-width="1.4"/>
<line x1="65.40" y1="486.80" x2="65.40" y2="482.80" stroke="#000" stroke-width="1.2"/>
<text x="65.90" y="501.40" font-size="10.80" text-anchor="middle" letter-spacing="1.00" fill="#1a1a1a" >0</text>
<line x1="84.56" y1="486.80" x2="84.56" y2="484.80" stroke="#000" stroke-width="1.2"/>
<line x1="103.72" y1="486.80" x2="103.72" y2="482.80" stroke="#000" stroke-width="1.2"/>
<text x="104.22" y="501.40" font-size="10.80" text-anchor="middle" letter-spacing="1.00" fill="#1a1a1a" >20</text>
<line x1="122.88" y1="486.80" x2="122.88" y2="484.80" stroke="#000" stroke-width="1.2"/>
<line x1="142.04" y1="486.80" x2="142.04" y2="482.80" stroke="#000" stroke-width="1.2"/>
<text x="142.54" y="501.40" font-size="10.80" text-anchor="middle" letter-spacing="1.00" fill="#1a1a1a" >40</text>
<line x1="161.20" y1="486.80" x2="161.20" y2="484.80" stroke="#000" stroke-width="1.2"/>
<line x1="180.36" y1="486.80" x2="180.36" y2="482.80" stroke="#000" stroke-width="1.2"/>
<text x="180.86" y="501.40" font-size="10.80" text-anchor="middle" letter-spacing="1.00" fill="#1a1a1a" >60</text>
<line x1="199.52" y1="486.80" x2="199.52" y2="484.80" stroke="#000" stroke-width="1.2"/>
<line x1="218.68" y1="486.80" x2="218.68" y2="482.80" stroke="#000" stroke-width="1.2"/>
<text x="219.18" y="501.40" font-size="10.80" text-anchor="middle" letter-spacing="1.00" fill="#1a1a1a" >80</text>
<line x1="237.84" y1="486.80" x2="237.84" y2="484.80" stroke="#000" stroke-width="1.2"/>
<line x1="257.00" y1="486.80" x2="257.00" y2="482.80" stroke="#000" stroke-width="1.2"/>
<text x="257.50" y="501.40" font-size="10.80" text-anchor="middle" letter-spacing="1.00" fill="#1a1a1a" >100</text>
<line x1="46.80" y1="486.80" x2="50.80" y2="486.80" stroke="#000" stroke-width="1.2"/>
<text x="42.30" y="490.80" font-size="10.80" text-anchor="end" letter-spacing="1.00" fill="#1a1a1a" >0.0</text>
<line x1="46.80" y1="470.39" x2="48.80" y2="470.39" stroke="#000" stroke-width="1.2"/>
<line x1="46.80" y1="453.98" x2="50.80" y2="453.98" stroke="#000" stroke-width="1.2"/>
<text x="42.30" y="457.98" font-size="10.80" text-anchor="end" letter-spacing="1.00" fill="#1a1a1a" >0.2</text>
<line x1="46.80" y1="437.57" x2="48.80" y2="437.57" stroke="#000" stroke-width="1.2"/>
<line x1="46.80" y1="421.16" x2="50.80" y2="421.16" stroke="#000" stroke-width="1.2"/>
<text x="42.30" y="425.16" font-size="10.80" text-anchor="end" letter-spacing="1.00" fill="#1a1a1a" >0.4</text>
<line x1="46.80" y1="404.75" x2="48.80" y2="404.75" stroke="#000" stroke-width="1.2"/>
<line x1="46.80" y1="388.34" x2="50.80" y2="388.34" stroke="#000" stroke-width="1.2"/>
<text x="42.30" y="392.34" font-size="10.80" text-anchor="end" letter-spacing="1.00" fill="#1a1a1a" >0.6</text>
<line x1="46.80" y1="371.93" x2="48.80" y2="371.93" stroke="#000" stroke-width="1.2"/>
<line x1="46.80" y1="355.52" x2="50.80" y2="355.52" stroke="#000" stroke-width="1.2"/>
<text x="42.30" y="359.52" font-size="10.80" text-anchor="end" letter-spacing="1.00" fill="#1a1a1a" >0.8</text>
<line x1="46.80" y1="339.11" x2="48.80" y2="339.11" stroke="#000" stroke-width="1.2"/>
<line x1="46.80" y1="322.70" x2="50.80" y2="322.70" stroke="#000" stroke-width="1.2"/>
<text x="42.30" y="326.70" font-size="10.80" text-anchor="end" letter-spacing="1.00" fill="#1a1a1a" >1.0</text>
<line x1="46.80" y1="306.29" x2="48.80" y2="306.29" stroke="#000" stroke-width="1.2"/>
<line x1="46.80" y1="289.88" x2="50.80" y2="289.88" stroke="#000" stroke-width="1.2"/>
<text x="42.30" y="293.88" font-size="10.80" text-anchor="end" letter-spacing="1.00" fill="#1a1a1a" >1.2</text>
<text class="t" x="92.55 102.17 105.86 114.33 124.66 132.27 145.06 153.43 162.43 175.09 180.15 193.72 202.67 225.11" y="524.40" font-size="12.90" fill="#1a1a1a">LightDose(Jcm)</text>
<circle cx="190.00" cy="523.10" r="1.55" fill="#1a1a1a"/>
<text x="216.87" y="516.20" font-size="6.5" fill="#1a1a1a">-</text>
<text x="219.49" y="516.20" font-size="6.5" fill="#1a1a1a">2</text>
<text class="t" transform="translate(13.0,0) rotate(-90)" x="-427.14 -415.82 -405.69 -402.59 -396.00 -383.68 -381.01 -372.83 -363.48 -360.14 -355.23 -351.64 -347.53" y="0" font-size="12.90" fill="#1a1a1a">CellViability</text>
<rect x="59.50" y="287.20" width="23.20" height="19.20" fill="#000"/>
<rect x="56.30" y="284.20" width="23.20" height="19.20" fill="#fff" stroke="#555" stroke-width="0.9"/>
<text x="68.70" y="298.00" font-size="9.30" text-anchor="middle" letter-spacing="1.50" fill="#1a1a1a" style="stroke-width:0.25px">(C)</text>
<rect x="142.00" y="399.60" width="6.81" height="6.81" fill="#0000ff"/>
<text x="160.70" y="407.30" font-size="8.50" text-anchor="start" letter-spacing="0.60" fill="#1a1a1a" >Control</text>
<circle cx="145.40" cy="415.30" r="4.23" fill="#00ff00"/>
<text x="160.70" y="419.60" font-size="8.50" text-anchor="start" letter-spacing="0.60" fill="#1a1a1a" >30 &#181;M ICG</text>
<polygon points="145.40,422.91 151.04,432.29 139.76,432.29" fill="#999999"/>
<text x="160.70" y="431.90" font-size="8.50" text-anchor="start" letter-spacing="0.60" fill="#1a1a1a" >20 &#181;M VP-16</text>
<polygon points="139.76,436.21 151.04,436.21 145.40,445.59" fill="#ff0000"/>
<text x="160.70" y="444.20" font-size="8.50" text-anchor="start" letter-spacing="0.60" fill="#1a1a1a" >ICG + 20 &#181;M VP-16</text>
<line x1="134.90" y1="452.80" x2="140.90" y2="452.80" stroke="#00ffff" stroke-width="2.3"/>
<line x1="149.90" y1="452.80" x2="155.90" y2="452.80" stroke="#00ffff" stroke-width="2.3"/>
<polygon points="145.90,447.88 147.34,451.34 151.07,451.64 148.23,454.08 149.10,457.72 145.90,455.77 142.70,457.72 143.57,454.08 140.73,451.64 144.46,451.34" fill="#00ffff"/>
<text x="160.70" y="456.50" font-size="8.50" text-anchor="start" letter-spacing="0.60" fill="#1a1a1a" >Predicated Additive Effect</text>
</g>
<g>
<clipPath id="clipD"><rect x="316.40" y="275.20" width="229.50" height="211.60"/></clipPath>
<g clip-path="url(#clipD)">
<rect x="331.60" y="318.34" width="7.40" height="7.40" fill="#0000ff"/>
<rect x="350.75" y="320.48" width="7.40" height="7.40" fill="#0000ff"/>
<rect x="369.90" y="313.75" width="7.40" height="7.40" fill="#0000ff"/>
<rect x="427.35" y="321.79" width="7.40" height="7.40" fill="#0000ff"/>
<rect x="523.10" y="325.24" width="7.40" height="7.40" fill="#0000ff"/>
<circle cx="335.30" cy="331.07" r="4.60" fill="#00ff00"/>
<circle cx="354.45" cy="323.03" r="4.60" fill="#00ff00"/>
<circle cx="373.60" cy="336.32" r="4.60" fill="#00ff00"/>
<circle cx="431.05" cy="348.14" r="4.60" fill="#00ff00"/>
<circle cx="526.80" cy="365.20" r="4.60" fill="#00ff00"/>
<polygon points="335.30,346.43 341.50,356.73 329.10,356.73" fill="#999999"/>
<polygon points="354.45,346.60 360.65,356.90 348.25,356.90" fill="#999999"/>
<polygon points="373.60,343.31 379.80,353.61 367.40,353.61" fill="#999999"/>
<polygon points="431.05,346.10 437.25,356.40 424.85,356.40" fill="#999999"/>
<polygon points="526.80,335.77 533.00,346.07 520.60,346.07" fill="#999999"/>
<polygon points="329.10,366.94 341.50,366.94 335.30,377.24" fill="#ff0000"/>
<polygon points="348.25,393.53 360.65,393.53 354.45,403.83" fill="#ff0000"/>
<polygon points="367.40,443.25 379.80,443.25 373.60,453.55" fill="#ff0000"/>
<polygon points="424.85,468.19 437.25,468.19 431.05,478.49" fill="#ff0000"/>
<polygon points="520.60,473.77 533.00,473.77 526.80,484.07" fill="#ff0000"/>
<rect x="334.00" y="315.48" width="2" height="13.13" fill="#0000ff"/>
<rect x="332.50" y="314.38" width="5" height="2.2" fill="#0000ff"/>
<rect x="332.50" y="327.51" width="5" height="2.2" fill="#0000ff"/>
<rect x="353.00" y="317.28" width="2" height="13.78" fill="#0000ff"/>
<rect x="351.50" y="316.18" width="5" height="2.2" fill="#0000ff"/>
<rect x="351.50" y="329.97" width="5" height="2.2" fill="#0000ff"/>
<rect x="373.00" y="310.56" width="2" height="13.78" fill="#0000ff"/>
<rect x="371.50" y="309.46" width="5" height="2.2" fill="#0000ff"/>
<rect x="371.50" y="323.24" width="5" height="2.2" fill="#0000ff"/>
<rect x="430.00" y="323.85" width="2" height="3.28" fill="#0000ff"/>
<rect x="428.50" y="322.75" width="5" height="2.2" fill="#0000ff"/>
<rect x="428.50" y="326.03" width="5" height="2.2" fill="#0000ff"/>
<rect x="526.00" y="325.65" width="2" height="6.56" fill="#0000ff"/>
<rect x="524.50" y="324.55" width="5" height="2.2" fill="#0000ff"/>
<rect x="524.50" y="331.12" width="5" height="2.2" fill="#0000ff"/>
<rect x="334.00" y="316.30" width="2" height="29.54" fill="#00ff00"/>
<rect x="332.50" y="315.20" width="5" height="2.2" fill="#00ff00"/>
<rect x="332.50" y="344.74" width="5" height="2.2" fill="#00ff00"/>
<rect x="353.00" y="321.39" width="2" height="3.28" fill="#00ff00"/>
<rect x="351.50" y="320.29" width="5" height="2.2" fill="#00ff00"/>
<rect x="351.50" y="323.57" width="5" height="2.2" fill="#00ff00"/>
<rect x="373.00" y="328.12" width="2" height="16.41" fill="#00ff00"/>
<rect x="371.50" y="327.02" width="5" height="2.2" fill="#00ff00"/>
<rect x="371.50" y="343.43" width="5" height="2.2" fill="#00ff00"/>
<rect x="430.00" y="339.60" width="2" height="17.07" fill="#00ff00"/>
<rect x="428.50" y="338.50" width="5" height="2.2" fill="#00ff00"/>
<rect x="428.50" y="355.57" width="5" height="2.2" fill="#00ff00"/>
<rect x="526.00" y="361.92" width="2" height="6.56" fill="#00ff00"/>
<rect x="524.50" y="360.82" width="5" height="2.2" fill="#00ff00"/>
<rect x="524.50" y="367.38" width="5" height="2.2" fill="#00ff00"/>
<rect x="334.00" y="348.30" width="2" height="6.56" fill="#999999"/>
<rect x="332.50" y="347.20" width="5" height="2.2" fill="#999999"/>
<rect x="332.50" y="353.76" width="5" height="2.2" fill="#999999"/>
<rect x="353.00" y="339.27" width="2" height="24.94" fill="#999999"/>
<rect x="351.50" y="338.17" width="5" height="2.2" fill="#999999"/>
<rect x="351.50" y="363.12" width="5" height="2.2" fill="#999999"/>
<rect x="373.00" y="346.82" width="2" height="3.28" fill="#999999"/>
<rect x="371.50" y="345.72" width="5" height="2.2" fill="#999999"/>
<rect x="371.50" y="349.00" width="5" height="2.2" fill="#999999"/>
<rect x="430.00" y="347.97" width="2" height="6.56" fill="#999999"/>
<rect x="428.50" y="346.87" width="5" height="2.2" fill="#999999"/>
<rect x="428.50" y="353.44" width="5" height="2.2" fill="#999999"/>
<rect x="526.00" y="332.38" width="2" height="17.07" fill="#999999"/>
<rect x="524.50" y="331.28" width="5" height="2.2" fill="#999999"/>
<rect x="524.50" y="348.35" width="5" height="2.2" fill="#999999"/>
<rect x="334.00" y="359.29" width="2" height="25.60" fill="#ff0000"/>
<rect x="332.50" y="358.19" width="5" height="2.2" fill="#ff0000"/>
<rect x="332.50" y="383.79" width="5" height="2.2" fill="#ff0000"/>
<rect x="353.00" y="377.67" width="2" height="42.01" fill="#ff0000"/>
<rect x="351.50" y="376.57" width="5" height="2.2" fill="#ff0000"/>
<rect x="351.50" y="418.58" width="5" height="2.2" fill="#ff0000"/>
<rect x="373.00" y="433.30" width="2" height="30.19" fill="#ff0000"/>
<rect x="371.50" y="432.20" width="5" height="2.2" fill="#ff0000"/>
<rect x="371.50" y="462.40" width="5" height="2.2" fill="#ff0000"/>
<rect x="430.00" y="471.70" width="2" height="3.28" fill="#ff0000"/>
<rect x="428.50" y="470.60" width="5" height="2.2" fill="#ff0000"/>
<rect x="428.50" y="473.88" width="5" height="2.2" fill="#ff0000"/>
<polygon points="335.30,373.20 336.99,377.27 341.39,377.62 338.04,380.49 339.06,384.78 335.30,382.48 331.54,384.78 332.56,380.49 329.21,377.62 333.61,377.27" fill="#00ffff"/>
<polygon points="354.45,367.29 356.14,371.36 360.54,371.71 357.19,374.58 358.21,378.87 354.45,376.57 350.69,378.87 351.71,374.58 348.36,371.71 352.76,371.36" fill="#00ffff"/>
<polygon points="373.60,376.48 375.29,380.55 379.69,380.90 376.34,383.77 377.36,388.06 373.60,385.76 369.84,388.06 370.86,383.77 367.51,380.90 371.91,380.55" fill="#00ffff"/>
<polygon points="431.05,382.88 432.74,386.95 437.14,387.30 433.79,390.17 434.81,394.46 431.05,392.16 427.29,394.46 428.31,390.17 424.96,387.30 429.36,386.95" fill="#00ffff"/>
<polygon points="526.80,396.17 528.49,400.24 532.89,400.59 529.54,403.46 530.56,407.75 526.80,405.45 523.04,407.75 524.06,403.46 520.71,400.59 525.11,400.24" fill="#00ffff"/>
<polyline points="373.60,382.27 431.05,388.67 526.80,401.96" fill="none" stroke="#00ffff" stroke-width="2.20" stroke-linejoin="round" stroke-dasharray="6.5,9.4" stroke-dashoffset="10.60"/>
<polyline points="354.50,322.69 356.95,322.81 359.40,322.93 361.84,323.05 364.29,323.18 366.74,323.30 369.19,323.42 371.64,323.54 374.08,323.66 376.53,323.78 378.98,323.90 381.43,324.02 383.88,324.14 386.33,324.26 388.77,324.38 391.22,324.50 393.67,324.62 396.12,324.74 398.57,324.86 401.01,324.98 403.46,325.10 405.91,325.22 408.36,325.34 410.81,325.47 413.25,325.59 415.70,325.71 418.15,325.83 420.60,325.95 423.05,326.07 425.49,326.19 427.94,326.31 430.39,326.43 432.84,326.55 435.29,326.67 437.74,326.79 440.18,326.91 442.63,327.03 445.08,327.15 447.53,327.27 449.98,327.39 452.42,327.51 454.87,327.63 457.32,327.76 459.77,327.88 462.22,328.00 464.66,328.12 467.11,328.24 469.56,328.36 472.01,328.48 474.46,328.60 476.91,328.72 479.35,328.84 481.80,328.96 484.25,329.08 486.70,329.20 489.15,329.32 491.59,329.44 494.04,329.56 496.49,329.68 498.94,329.80 501.39,329.93 503.83,330.05 506.28,330.17 508.73,330.29 511.18,330.41 513.63,330.53 516.07,330.65 518.52,330.77 520.97,330.89 523.42,331.01 525.87,331.13 528.32,331.25 530.76,331.37 533.21,331.49 535.66,331.61 538.11,331.73 540.56,331.85 543.00,331.97 545.45,332.09 547.90,332.22" fill="none" stroke="#0000ff" stroke-width="2.40" stroke-linejoin="round"/>
<polyline points="355.00,325.64 357.44,326.35 359.88,327.07 362.33,327.77 364.77,328.48 367.21,329.18 369.65,329.87 372.09,330.57 374.53,331.25 376.98,331.94 379.42,332.62 381.86,333.29 384.30,333.96 386.74,334.63 389.18,335.29 391.63,335.95 394.07,336.60 396.51,337.25 398.95,337.90 401.39,338.54 403.84,339.18 406.28,339.81 408.72,340.44 411.16,341.06 413.60,341.68 416.04,342.30 418.49,342.91 420.93,343.52 423.37,344.12 425.81,344.72 428.25,345.32 430.69,345.91 433.14,346.49 435.58,347.08 438.02,347.65 440.46,348.23 442.90,348.80 445.35,349.36 447.79,349.93 450.23,350.48 452.67,351.04 455.11,351.58 457.55,352.13 460.00,352.67 462.44,353.20 464.88,353.74 467.32,354.26 469.76,354.79 472.21,355.31 474.65,355.82 477.09,356.33 479.53,356.84 481.97,357.34 484.41,357.84 486.86,358.33 489.30,358.82 491.74,359.31 494.18,359.79 496.62,360.27 499.06,360.74 501.51,361.21 503.95,361.67 506.39,362.13 508.83,362.59 511.27,363.04 513.72,363.49 516.16,363.93 518.60,364.37 521.04,364.81 523.48,365.24 525.92,365.67 528.37,366.09 530.81,366.51 533.25,366.92 535.69,367.33 538.13,367.74 540.57,368.14 543.02,368.53 545.46,368.93 547.90,369.32" fill="none" stroke="#00ff00" stroke-width="2.40" stroke-linejoin="round"/>
<polyline points="354.50,349.29 356.95,349.29 359.40,349.29 361.84,349.29 364.29,349.30 366.74,349.30 369.19,349.30 371.64,349.30 374.08,349.30 376.53,349.31 378.98,349.31 381.43,349.31 383.88,349.31 386.33,349.32 388.77,349.32 391.22,349.32 393.67,349.32 396.12,349.32 398.57,349.33 401.01,349.33 403.46,349.33 405.91,349.33 408.36,349.34 410.81,349.34 413.25,349.34 415.70,349.34 418.15,349.34 420.60,349.35 423.05,349.35 425.49,349.35 427.94,349.35 430.39,349.35 432.84,349.36 435.29,349.36 437.74,349.36 440.18,349.36 442.63,349.37 445.08,349.37 447.53,349.37 449.98,349.37 452.42,349.37 454.87,349.38 457.32,349.38 459.77,349.38 462.22,349.38 464.66,349.39 467.11,349.39 469.56,349.39 472.01,349.39 474.46,349.39 476.91,349.40 479.35,349.40 481.80,349.40 484.25,349.40 486.70,349.40 489.15,349.41 491.59,349.41 494.04,349.41 496.49,349.41 498.94,349.42 501.39,349.42 503.83,349.42 506.28,349.42 508.73,349.42 511.18,349.43 513.63,349.43 516.07,349.43 518.52,349.43 520.97,349.44 523.42,349.44 525.87,349.44 528.32,349.44 530.76,349.44 533.21,349.45 535.66,349.45 538.11,349.45 540.56,349.45 543.00,349.46 545.45,349.46 547.90,349.46" fill="none" stroke="#999999" stroke-width="2.00" stroke-linejoin="round"/>
<polyline points="350.20,411.45 352.70,417.57 355.21,422.78 357.71,427.28 360.21,431.19 362.71,434.64 365.22,437.69 367.72,440.41 370.22,442.85 372.72,445.05 375.23,447.05 377.73,448.87 380.23,450.53 382.73,452.06 385.24,453.48 387.74,454.78 390.24,455.99 392.74,457.11 395.25,458.16 397.75,459.14 400.25,460.06 402.75,460.92 405.26,461.73 407.76,462.49 410.26,463.21 412.76,463.89 415.27,464.53 417.77,465.15 420.27,465.72 422.77,466.28 425.28,466.80 427.78,467.30 430.28,467.78 432.78,468.23 435.29,468.67 437.79,469.08 440.29,469.48 442.79,469.87 445.30,470.23 447.80,470.59 450.30,470.93 452.80,471.25 455.31,471.57 457.81,471.87 460.31,472.16 462.81,472.44 465.32,472.71 467.82,472.97 470.32,473.23 472.82,473.47 475.33,473.71 477.83,473.94 480.33,474.16 482.83,474.38 485.34,474.59 487.84,474.79 490.34,474.98 492.84,475.18 495.35,475.36 497.85,475.54 500.35,475.72 502.85,475.89 505.36,476.05 507.86,476.21 510.36,476.37 512.86,476.52 515.37,476.67 517.87,476.82 520.37,476.96 522.87,477.10 525.38,477.23 527.88,477.36 530.38,477.49 532.88,477.61 535.39,477.74 537.89,477.86 540.39,477.97 542.89,478.09 545.40,478.20 547.90,478.31" fill="none" stroke="#ff0000" stroke-width="2.50" stroke-linejoin="round"/>
</g>
<rect x="316.40" y="275.20" width="229.50" height="211.60" fill="none" stroke="#000" stroke-width="1.4"/>
<line x1="335.30" y1="486.80" x2="335.30" y2="482.80" stroke="#000" stroke-width="1.2"/>
<text x="335.80" y="501.40" font-size="10.80" text-anchor="middle" letter-spacing="1.00" fill="#1a1a1a" >0</text>
<line x1="354.45" y1="486.80" x2="354.45" y2="484.80" stroke="#000" stroke-width="1.2"/>
<line x1="373.60" y1="486.80" x2="373.60" y2="482.80" stroke="#000" stroke-width="1.2"/>
<text x="374.10" y="501.40" font-size="10.80" text-anchor="middle" letter-spacing="1.00" fill="#1a1a1a" >20</text>
<line x1="392.75" y1="486.80" x2="392.75" y2="484.80" stroke="#000" stroke-width="1.2"/>
<line x1="411.90" y1="486.80" x2="411.90" y2="482.80" stroke="#000" stroke-width="1.2"/>
<text x="412.40" y="501.40" font-size="10.80" text-anchor="middle" letter-spacing="1.00" fill="#1a1a1a" >40</text>
<line x1="431.05" y1="486.80" x2="431.05" y2="484.80" stroke="#000" stroke-width="1.2"/>
<line x1="450.20" y1="486.80" x2="450.20" y2="482.80" stroke="#000" stroke-width="1.2"/>
<text x="450.70" y="501.40" font-size="10.80" text-anchor="middle" letter-spacing="1.00" fill="#1a1a1a" >60</text>
<line x1="469.35" y1="486.80" x2="469.35" y2="484.80" stroke="#000" stroke-width="1.2"/>
<line x1="488.50" y1="486.80" x2="488.50" y2="482.80" stroke="#000" stroke-width="1.2"/>
<text x="489.00" y="501.40" font-size="10.80" text-anchor="middle" letter-spacing="1.00" fill="#1a1a1a" >80</text>
<line x1="507.65" y1="486.80" x2="507.65" y2="484.80" stroke="#000" stroke-width="1.2"/>
<line x1="526.80" y1="486.80" x2="526.80" y2="482.80" stroke="#000" stroke-width="1.2"/>
<text x="527.30" y="501.40" font-size="10.80" text-anchor="middle" letter-spacing="1.00" fill="#1a1a1a" >100</text>
<line x1="316.40" y1="486.80" x2="320.40" y2="486.80" stroke="#000" stroke-width="1.2"/>
<text x="311.90" y="490.80" font-size="10.80" text-anchor="end" letter-spacing="1.00" fill="#1a1a1a" >0.0</text>
<line x1="316.40" y1="470.39" x2="318.40" y2="470.39" stroke="#000" stroke-width="1.2"/>
<line x1="316.40" y1="453.98" x2="320.40" y2="453.98" stroke="#000" stroke-width="1.2"/>
<text x="311.90" y="457.98" font-size="10.80" text-anchor="end" letter-spacing="1.00" fill="#1a1a1a" >0.2</text>
<line x1="316.40" y1="437.57" x2="318.40" y2="437.57" stroke="#000" stroke-width="1.2"/>
<line x1="316.40" y1="421.16" x2="320.40" y2="421.16" stroke="#000" stroke-width="1.2"/>
<text x="311.90" y="425.16" font-size="10.80" text-anchor="end" letter-spacing="1.00" fill="#1a1a1a" >0.4</text>
<line x1="316.40" y1="404.75" x2="318.40" y2="404.75" stroke="#000" stroke-width="1.2"/>
<line x1="316.40" y1="388.34" x2="320.40" y2="388.34" stroke="#000" stroke-width="1.2"/>
<text x="311.90" y="392.34" font-size="10.80" text-anchor="end" letter-spacing="1.00" fill="#1a1a1a" >0.6</text>
<line x1="316.40" y1="371.93" x2="318.40" y2="371.93" stroke="#000" stroke-width="1.2"/>
<line x1="316.40" y1="355.52" x2="320.40" y2="355.52" stroke="#000" stroke-width="1.2"/>
<text x="311.90" y="359.52" font-size="10.80" text-anchor="end" letter-spacing="1.00" fill="#1a1a1a" >0.8</text>
<line x1="316.40" y1="339.11" x2="318.40" y2="339.11" stroke="#000" stroke-width="1.2"/>
<line x1="316.40" y1="322.70" x2="320.40" y2="322.70" stroke="#000" stroke-width="1.2"/>
<text x="311.90" y="326.70" font-size="10.80" text-anchor="end" letter-spacing="1.00" fill="#1a1a1a" >1.0</text>
<line x1="316.40" y1="306.29" x2="318.40" y2="306.29" stroke="#000" stroke-width="1.2"/>
<line x1="316.40" y1="289.88" x2="320.40" y2="289.88" stroke="#000" stroke-width="1.2"/>
<text x="311.90" y="293.88" font-size="10.80" text-anchor="end" letter-spacing="1.00" fill="#1a1a1a" >1.2</text>
<text class="t" x="362.15 371.77 375.46 383.93 394.26 401.87 414.66 423.03 432.03 444.69 449.75 463.32 472.27 494.71" y="524.40" font-size="12.90" fill="#1a1a1a">LightDose(Jcm)</text>
<circle cx="459.60" cy="523.10" r="1.55" fill="#1a1a1a"/>
<text x="486.47" y="516.20" font-size="6.5" fill="#1a1a1a">-</text>
<text x="489.09" y="516.20" font-size="6.5" fill="#1a1a1a">2</text>
<rect x="329.50" y="287.50" width="23.20" height="19.00" fill="#000"/>
<rect x="326.30" y="284.50" width="23.20" height="19.00" fill="#fff" stroke="#555" stroke-width="0.9"/>
<text x="338.70" y="298.20" font-size="9.30" text-anchor="middle" letter-spacing="1.50" fill="#1a1a1a" style="stroke-width:0.25px">(D)</text>
<rect x="411.40" y="401.30" width="6.81" height="6.81" fill="#0000ff"/>
<text x="430.10" y="409.00" font-size="8.50" text-anchor="start" letter-spacing="0.60" fill="#1a1a1a" >Control</text>
<circle cx="414.80" cy="417.00" r="4.23" fill="#00ff00"/>
<text x="430.10" y="421.30" font-size="8.50" text-anchor="start" letter-spacing="0.60" fill="#1a1a1a" >50 &#181;M ICG</text>
<polygon points="414.80,424.61 420.44,433.99 409.16,433.99" fill="#999999"/>
<text x="430.10" y="433.60" font-size="8.50" text-anchor="start" letter-spacing="0.60" fill="#1a1a1a" >5 &#181;M VP-16</text>
<polygon points="409.16,437.91 420.44,437.91 414.80,447.29" fill="#ff0000"/>
<text x="430.10" y="445.90" font-size="8.50" text-anchor="start" letter-spacing="0.60" fill="#1a1a1a" >ICG + 5 &#181;M VP-16</text>
<line x1="404.30" y1="454.50" x2="410.30" y2="454.50" stroke="#00ffff" stroke-width="2.3"/>
<line x1="419.30" y1="454.50" x2="425.30" y2="454.50" stroke="#00ffff" stroke-width="2.3"/>
<polygon points="415.30,449.58 416.74,453.04 420.47,453.34 417.63,455.78 418.50,459.42 415.30,457.47 412.10,459.42 412.97,455.78 410.13,453.34 413.86,453.04" fill="#00ffff"/>
<text x="430.10" y="458.20" font-size="8.50" text-anchor="start" letter-spacing="0.60" fill="#1a1a1a" >Predicated Additive Effect</text>
</g>
</svg></body></html>
